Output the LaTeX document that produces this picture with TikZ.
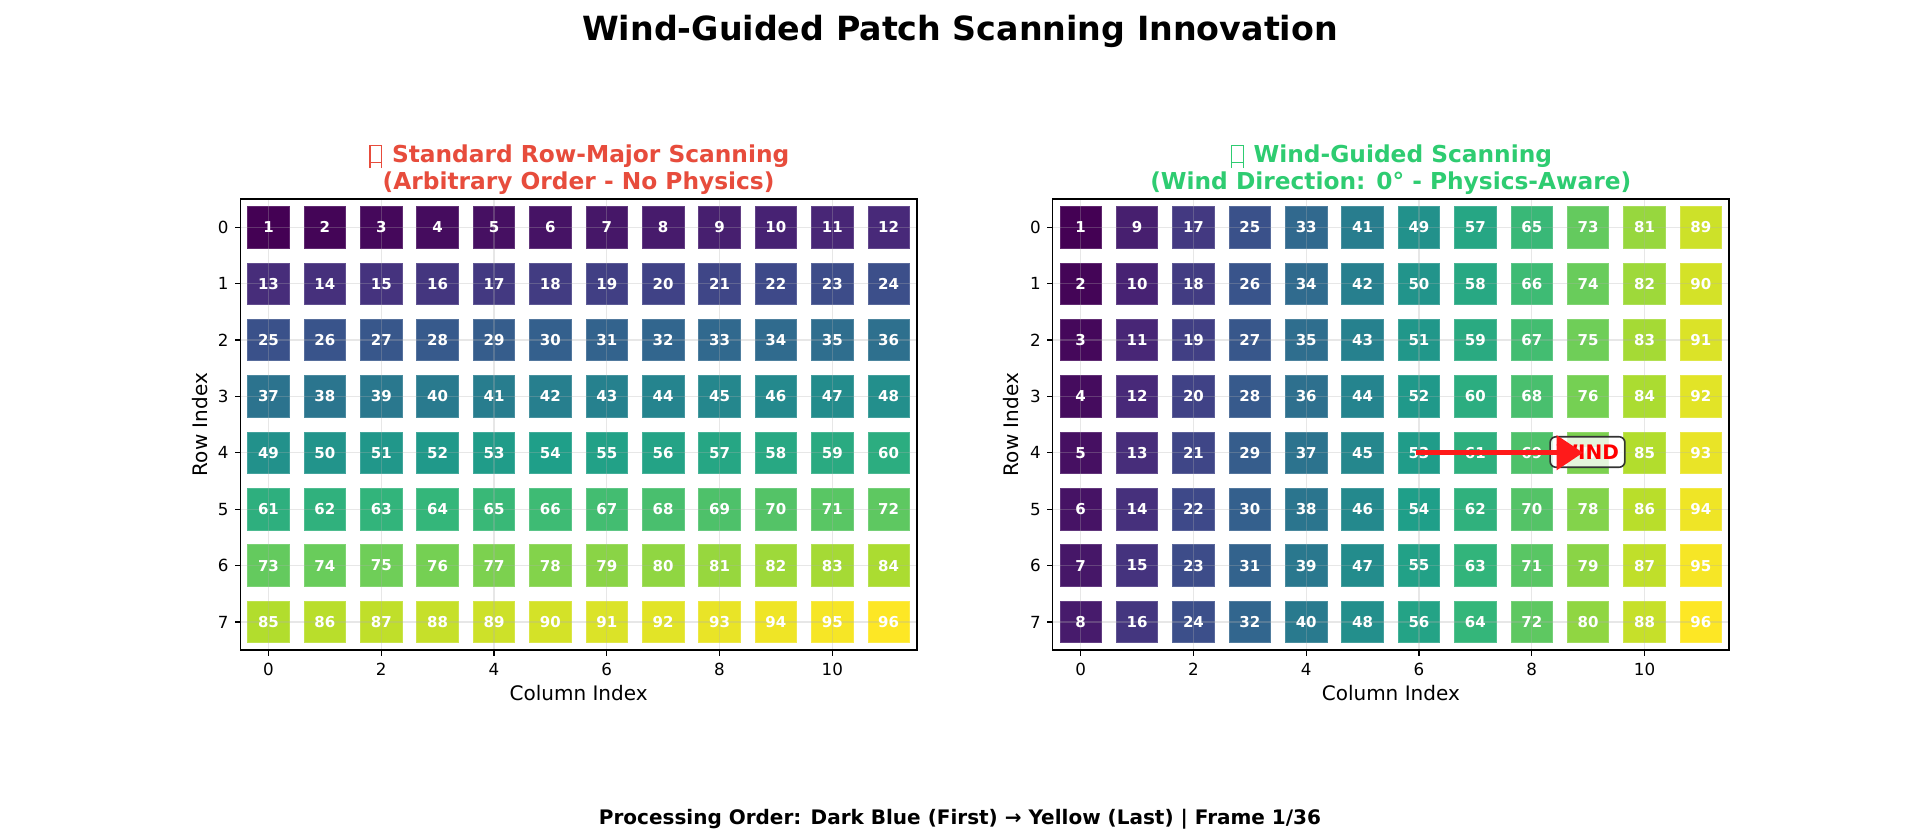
\documentclass[tikz,border=0pt]{standalone}
\usepackage{fontspec}
\setmainfont{DejaVu Sans}
\usetikzlibrary{arrows.meta}

% viridis, ten evenly spaced stops
\definecolor{vir0}{HTML}{440154}
\definecolor{vir1}{HTML}{482878}
\definecolor{vir2}{HTML}{3E4989}
\definecolor{vir3}{HTML}{31688E}
\definecolor{vir4}{HTML}{26828E}
\definecolor{vir5}{HTML}{1F9E89}
\definecolor{vir6}{HTML}{35B779}
\definecolor{vir7}{HTML}{6ECE58}
\definecolor{vir8}{HTML}{B5DE2B}
\definecolor{vir9}{HTML}{FDE725}
\definecolor{titlered}{HTML}{E74C3C}
\definecolor{titlegreen}{HTML}{2ECC71}
\definecolor{gridgray}{HTML}{B0B0B0}
\definecolor{windred}{HTML}{FF1A1A}
\definecolor{boxedge}{HTML}{333333}

% placeholder box for a glyph the title font does not have
\newcommand\tofubox{\kern1.5pt\vrule width 1.2pt height 18pt\vbox to 18pt{\hrule height 1.2pt width 10.6pt\vfill\hrule height 1.2pt}\vrule width 1.2pt height 18pt\kern1.5pt}

% axes geometry (1 unit = 1pt, y grows downwards)
\def\U{56.38}
\def\axT{199.1}
\def\axB{650.14}

% coloured patches; #1 left edge, #2 name prefix, #3 processing-order formula
\newcommand\patchgrid[3]{%
  \foreach \prow in {0,...,7}{%
    \foreach \pcol in {0,...,11}{%
      \pgfmathtruncatemacro\pn{#3}%
      \pgfmathsetmacro\vt{(\pn-1)/95*9}%
      \pgfmathtruncatemacro\vk{min(floor(\vt),8)}%
      \pgfmathtruncatemacro\vkk{\vk+1}%
      \pgfmathsetmacro\vp{100*(1-(\vt-\vk))}%
      \colorlet{patchfill}{vir\vk!\vp!vir\vkk}%
      \node[patch] (#2-\pn) at ({#1+(\pcol+0.5)*\U},{\axT+(\prow+0.5)*\U}) {};
    }%
  }%
}
% grid lines on top of the patches
\newcommand\axesgrid[1]{%
  \foreach \gc in {0,2,...,10}
    \draw[gridline] ({#1+(\gc+0.5)*\U},\axT) -- ({#1+(\gc+0.5)*\U},\axB);
  \foreach \gr in {0,...,7}
    \draw[gridline] (#1,{\axT+(\gr+0.5)*\U}) -- ({#1+12*\U},{\axT+(\gr+0.5)*\U});
}
% frame, ticks and tick labels; #1 left edge, #2 name prefix
\newcommand\axesframe[2]{%
  \draw[spine] (#1,\axT) rectangle ({#1+12*\U},\axB);
  \foreach \gc in {0,2,...,10}{%
    \draw[tickmark] ({#1+(\gc+0.5)*\U},\axB) -- ++(0,5.8);
    \node[ticklabel, anchor=base] (#2-xt-\gc) at ({#1+(\gc+0.5)*\U},675) {\gc};
  }%
  \foreach \gr in {0,...,7}{%
    \draw[tickmark] (#1,{\axT+(\gr+0.5)*\U}) -- ++(-5.8,0);
    \node[ticklabel, anchor=base east] (#2-yt-\gr) at ({#1-11.6},{\axT+(\gr+0.5)*\U+6.1}) {\gr};
  }%
}
% patch numbers above grid and frame
\newcommand\patchnumbers[1]{%
  \foreach \pn in {1,...,96}
    \node[patchnum] (#1n-\pn) at (#1-\pn) {\pn};
}

\begin{document}
\begin{tikzpicture}[x=1pt,y=-1pt,
  patch/.style={minimum size=41.5, inner sep=0, outer sep=0,
    fill=patchfill, draw=patchfill!85!white, line width=0.8},
  patchnum/.style={inner sep=0, text=white, font=\bfseries\fontsize{15}{18}\selectfont},
  gridline/.style={draw=gridgray, draw opacity=0.3, line width=1.33},
  spine/.style={draw=black, line width=1.4},
  tickmark/.style={draw=black, line width=1.33},
  ticklabel/.style={inner sep=0, font=\fontsize{16.7}{20}\selectfont},
  axislabel/.style={inner sep=0, font=\fontsize{20}{24}\selectfont},
  subtitle/.style={inner sep=0, anchor=base, font=\bfseries\fontsize{23.3}{28}\selectfont},
  windbox/.style={draw=boxedge, fill=white, fill opacity=0.8, text opacity=1,
    text=red, rounded corners=6, line width=1.6, inner xsep=6, inner ysep=8,
    font=\bfseries\fontsize{20}{24}\selectfont},
  windarrow/.style={draw=windred, line width=5, -{Triangle[length=26.5,width=34]}},
]
\useasboundingbox (0,0) rectangle (1920,840);
\fill[white] (0,0) rectangle (1920,840);

% main title
\node[anchor=base, inner sep=0, font=\bfseries\fontsize{33.3}{40}\selectfont]
  (suptitle) at (960,41) {Wind-Guided Patch Scanning Innovation};

% ---- left panel: row-major order ----
\patchgrid{240.3}{L}{\prow*12+\pcol+1}
\axesgrid{240.3}
\axesframe{240.3}{L}
\patchnumbers{L}
\node[subtitle, text=titlered] (Ltitle1) at (578.6,163) {\tofubox\ Standard Row-Major Scanning};
\node[subtitle, text=titlered] (Ltitle2) at (578.6,189.7) {(Arbitrary Order - No Physics)};
\node[axislabel, rotate=90] (Lylabel) at (199.6,424.6) {Row Index};
\node[axislabel, anchor=base] (Lxlabel) at (578.6,700.7) {Column Index};

% ---- right panel: column-major (wind-guided) order ----
\patchgrid{1052.5}{R}{\pcol*8+\prow+1}
\axesgrid{1052.5}
\axesframe{1052.5}{R}
\patchnumbers{R}
\node[subtitle, text=titlegreen] (Rtitle1) at (1390.8,163) {\tofubox\ Wind-Guided Scanning};
\node[subtitle, text=titlegreen] (Rtitle2) at (1390.8,189.7) {(Wind Direction: 0° - Physics-Aware)};
\node[axislabel, rotate=90] (Rylabel) at (1011.4,424.6) {Row Index};
\node[axislabel, anchor=base] (Rxlabel) at (1390.8,700.7) {Column Index};

% wind indicator
\node[windbox] (windlabel) at (1587.5,452) {WIND};
\coordinate (windtail) at (1416,452.7);
\coordinate (windtip) at (1583,452.7);
\draw[windarrow] (windtail) -- (windtip);

% footer
\node[anchor=base, inner sep=0, font=\bfseries\fontsize{20}{24}\selectfont]
  (footer) at (960,824) {Processing Order: Dark Blue (First) → Yellow (Last) | Frame 1/36};
\end{tikzpicture}
\end{document}
